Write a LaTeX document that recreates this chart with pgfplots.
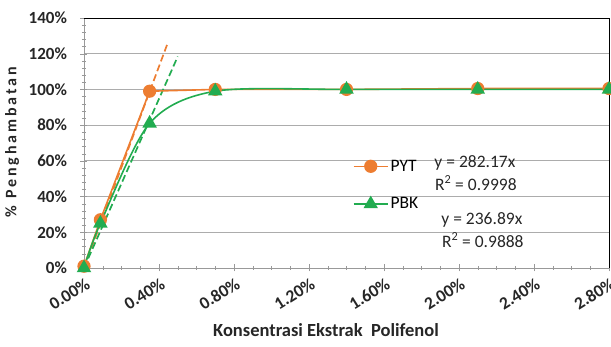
\documentclass[border=0pt]{standalone}
\usepackage{fontspec}
\setmainfont{Carlito}
\usepackage{pgfplots}
\pgfplotsset{compat=1.18}
\definecolor{org}{RGB}{237,125,49}
\definecolor{grn}{RGB}{34,172,80}
\begin{document}
\begin{tikzpicture}
\begin{axis}[
  scale only axis, width=525pt, height=250pt,
  xmin=0, xmax=2.8, ymin=0, ymax=140,
  xtick={0,0.4,0.8,1.2,1.6,2.0,2.4,2.8},
  ytick={0,20,40,60,80,100,120,140},
  minor x tick num=3, minor y tick num=4,
  axis lines*=left, axis line style={gray!80},
  ymajorgrids, grid style={gray!65, line width=0.8pt},
  tick style={gray!80}, tick align=center,
  major tick length=7pt, minor tick length=4pt,
  /pgf/number format/assume math mode=true,
  xticklabel={\pgfmathprintnumber[fixed,fixed zerofill,precision=2]{\tick}\%},
  yticklabel={\pgfmathprintnumber{\tick}\%},
  x tick label style={rotate=32, anchor=north east, font=\bfseries\fontsize{17.5}{17.5}\selectfont, text=black!85, inner sep=2pt, yshift=-3pt},
  y tick label style={font=\bfseries\fontsize{17}{17}\selectfont, text=black!85, xshift=-10pt},
  xlabel={Konsentrasi Ekstrak\ \ Polifenol},
  ylabel={\addfontfeature{LetterSpace=18}\% Penghambatan},
  xlabel style={at={(axis description cs:0.461,-0.248)}, anchor=center, font=\bfseries\fontsize{18.5}{18.5}\selectfont, text=black!85},
  ylabel style={at={(axis description cs:-0.137,0.504)}, anchor=center, font=\bfseries\fontsize{16}{16}\selectfont, text=black!85},
  legend style={at={(axis description cs:0.51,0.445)}, anchor=north west, draw=none, fill=none,
    font=\fontsize{17.5}{17.5}\selectfont, row sep=21pt, inner sep=1pt},
  legend cell align=left,
  legend image code/.code={\draw[#1, line width=1.6pt] (0pt,0pt) -- (34pt,0pt); \draw[#1, mark repeat=1] plot coordinates {(17pt,0pt)};},
  clip=false,
]
\addplot[org, dash pattern=on 7pt off 3.5pt, line width=1.7pt, forget plot] coordinates {(0,0) (0.448,126.4)};
\addplot[grn, dash pattern=on 7pt off 3.5pt, line width=1.7pt, forget plot] coordinates {(0,0) (0.50,118.4)};
\addplot[org, line width=1.6pt, mark=*, mark size=5.8pt, mark options={solid}]
  coordinates {(0,1) (0.0875,27) (0.35,99) (0.7,100) (1.4,100) (2.1,100.5) (2.8,100.5)};
\addlegendentry{PYT}
\addplot[grn, line width=1.6pt, smooth, tension=0.5, mark=triangle*, mark size=6.8pt, mark options={solid}]
  coordinates {(0,0) (0.0875,25) (0.35,81) (0.7,99) (1.4,100) (2.1,100) (2.8,100)};
\addlegendentry{PBK}
\draw[black, line width=0.8pt] (rel axis cs:0,1) -- (rel axis cs:1,1) -- (rel axis cs:1,0);
\node[font=\fontsize{17.5}{17.5}\selectfont, text=black!85] at (axis cs:2.085,58.8) {y = 282.17x};
\node[font=\fontsize{17.5}{17.5}\selectfont, text=black!85] at (axis cs:2.090,47.6) {R\textsuperscript{2} = 0.9998};
\node[font=\fontsize{17.5}{17.5}\selectfont, text=black!85] at (axis cs:2.122,26.9) {y = 236.89x};
\node[font=\fontsize{17.5}{17.5}\selectfont, text=black!85] at (axis cs:2.127,15.7) {R\textsuperscript{2} = 0.9888};
\end{axis}
\pgfresetboundingbox
\useasboundingbox (-84pt,-79pt) rectangle (527pt,268pt);
\end{tikzpicture}
\end{document}
